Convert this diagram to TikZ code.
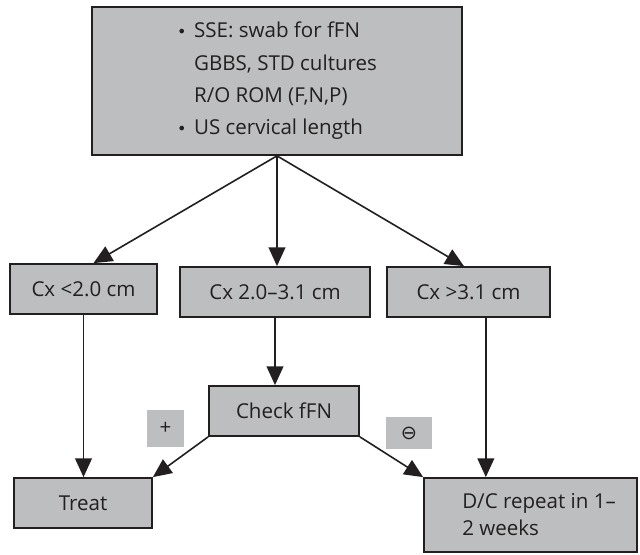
\documentclass[tikz,border=0pt]{standalone}
\usepackage{fontspec}
\setmainfont{Open Sans}
\newfontfamily\symfont{DejaVu Sans}
\usetikzlibrary{arrows.meta,calc}
\definecolor{boxgrey}{RGB}{188,190,192}
\definecolor{ink}{RGB}{35,31,32}
\begin{document}
\begin{tikzpicture}[x=0.75pt,y=-0.75pt,
  box/.style={draw=ink, line width=1.3pt, fill=boxgrey, text=ink, inner sep=0pt,
    font=\fontsize{15.4}{24.2}\selectfont},
  tag/.style={fill=boxgrey, text=ink, inner sep=0pt, font=\fontsize{15.4}{18}\selectfont},
  arr/.style={draw=ink, line width=1.2pt, -{Triangle[length=14pt,width=12.5pt]}}]
\useasboundingbox (0,0) rectangle (640,555);

\node[box, minimum width=277.5pt, minimum height=111pt, align=left] (top) at (277,81)
  {\makebox[12.75pt][l]{\symfont\fontsize{12}{14}\selectfont•}SSE: swab for fFN\\
   \hspace*{12.75pt}GBBS, STD cultures\\
   \hspace*{12.75pt}R/O ROM (F,N,P)\\
   \makebox[12.75pt][l]{\symfont\fontsize{12}{14}\selectfont•}US cervical length};

\node[box, minimum width=110.25pt, minimum height=37.5pt] (c1) at (83.5,289) {Cx <2.0 cm};
\node[box, minimum width=142.5pt, minimum height=37.5pt] (c2) at (275,292) {Cx 2.0–3.1 cm};
\node[box, minimum width=122.25pt, minimum height=37.5pt] (c3) at (468.5,292) {Cx >3.1 cm};
\node[box, minimum width=112.5pt, minimum height=37.5pt] (chk) at (284,411) {Check fFN};
\node[box, minimum width=103.5pt, minimum height=37.5pt] (treat) at (83,503) {Treat};
\node[box, minimum width=159.75pt, minimum height=55.5pt] (dc) at (530.5,515) {};
\node[anchor=west, align=left, text=ink, inner sep=0pt,
  font=\fontsize{15.4}{20.25}\selectfont] (dctext) at (462,515) {D/C repeat in 1–\\2 weeks};

\node[tag, minimum width=27.75pt, minimum height=27.75pt] (plus) at (165.5,428.5) {+};
\node[tag, minimum width=34.5pt, minimum height=24pt] (minus) at (409,433) {\symfont\fontsize{14.5}{16}\selectfont ⊖};

\draw[arr] (top.south) -- ([xshift=7.5pt]c1.north);
\draw[arr] (top.south) -- (top.south |- c2.north);
\draw[arr] (top.south) -- ([xshift=-3.4pt]c3.north);
\draw[arr] (c1.south) -- (c1.south |- treat.north);
\draw[arr] (c2.south) -- (c2.south |- chk.north);
\coordinate (c3out) at ([xshift=13pt]c3.south);
\draw[arr] (c3out) -- (c3out |- dc.north);
\draw[arr] (chk.south west) -- (treat.north east);
\draw[arr] (chk.south east) -- (dc.north west);
\end{tikzpicture}
\end{document}
